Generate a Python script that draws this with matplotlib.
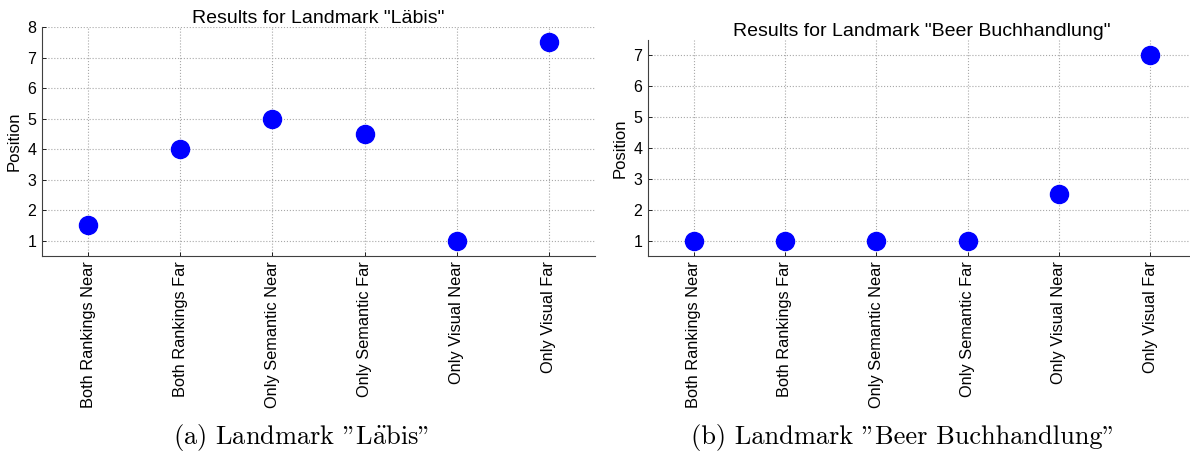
import matplotlib
matplotlib.use("Agg")
import matplotlib.pyplot as plt

categories = ["Both Rankings Near", "Both Rankings Far", "Only Semantic Near",
              "Only Semantic Far", "Only Visual Near", "Only Visual Far"]
labis_values = [1.5, 4, 5, 4.5, 1, 7.5]
beer_values = [1, 1, 1, 1, 2.5, 7]
titles = ['Results for Landmark "Läbis"', 'Results for Landmark "Beer Buchhandlung"']
captions = [r'(a) Landmark "L$\ddot{\mathrm{a}}$bis"', '(b) Landmark "Beer Buchhandlung"']

plt.rcParams['font.family'] = ['Liberation Sans', 'DejaVu Sans']
plt.rcParams['mathtext.fontset'] = 'cm'

fig = plt.figure(figsize=(11.9, 4.61), dpi=100)
W, H = 1190, 461

def make_ax(l, r, t, b):
    return fig.add_axes([l / W, 1 - b / H, (r - l) / W, (b - t) / H])

axL = make_ax(42, 595, 27, 256)
axR = make_ax(648, 1196, 40, 256)

for ax, vals, title, ylim, yt in [
    (axL, labis_values, titles[0], (0.5, 8), range(1, 9)),
    (axR, beer_values, titles[1], (0.5, 7.5), range(1, 8)),
]:
    x = list(range(1, len(categories) + 1))
    ax.plot(x, vals, 'o', color='#0000ff', markersize=13, linestyle='none', zorder=3)
    ax.set_xlim(0.5, 6.5)
    ax.set_ylim(*ylim)
    ax.set_yticks(list(yt))
    ax.set_xticks(x)
    ax.set_xticklabels(categories, rotation=90, fontsize=11.8)
    ax.tick_params(axis='y', labelsize=11.5, direction='in', length=3, width=0.6, pad=4)
    ax.tick_params(axis='x', direction='in', length=3, width=0.6, pad=4)
    ax.grid(True, linestyle=':', color='#a8a8a8', linewidth=0.8)
    for s in ['top', 'right']:
        ax.spines[s].set_visible(False)
    for s in ['left', 'bottom']:
        ax.spines[s].set_linewidth(0.8)
        ax.spines[s].set_color('#404040')
    ax.set_ylabel('Position', fontsize=12, labelpad=4)
    ax.set_title(title, fontsize=14, pad=3)

fig.text(301 / W, 1 - 437 / H, captions[0], ha='center', va='center',
         fontsize=19, family=['cmr10', 'DejaVu Serif'])
fig.text(903 / W, 1 - 437 / H, captions[1], ha='center', va='center',
         fontsize=19, family=['cmr10', 'DejaVu Serif'])

fig.savefig('out.png', dpi=100)
